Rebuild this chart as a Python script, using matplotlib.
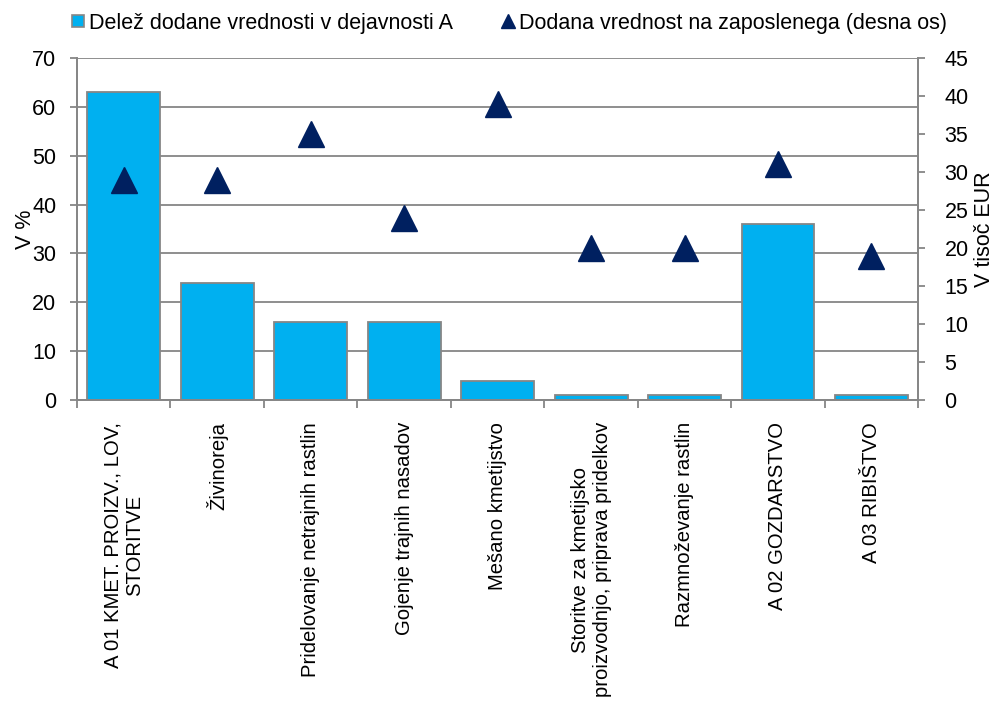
import numpy as np
import matplotlib.pyplot as plt
from matplotlib.lines import Line2D

plt.rcParams['font.family'] = ['Liberation Sans', 'DejaVu Sans']

# data
categories = [
    'A 01 KMET. PROIZV., LOV,\nSTORITVE',
    'Živinoreja',
    'Pridelovanje netrajnih rastlin',
    'Gojenje trajnih nasadov',
    'Mešano kmetijstvo',
    'Storitve za kmetijsko\nproizvodnjo, priprava pridelkov',
    'Razmnoževanje rastlin',
    'A 02 GOZDARSTVO',
    'A 03 RIBIŠTVO',
]
share = [63, 24, 16, 16, 3.8, 1, 1, 36, 1]
value_per_employee = [29, 29, 35, 24, 39, 20, 20, 31, 19]

bar_color = '#00B0F0'
tri_color = '#002060'
gray = '#868686'
fs = 15.5

fig = plt.figure(figsize=(9.99, 7.13), dpi=100)
ax = fig.add_axes([0.0771, 0.439, 0.842, 0.4797])
ax2 = ax.twinx()

x = np.arange(len(categories))
ax.bar(x, share, width=0.78, color=bar_color, edgecolor=gray, linewidth=1.3, zorder=3)
ax2.plot(x, value_per_employee, linestyle='none', marker='^', ms=18.5,
         color=tri_color, zorder=4)

ax.set_xlim(-0.5, len(categories) - 0.5)
ax.set_ylim(0, 70)
ax.set_yticks(range(0, 71, 10))
ax2.set_ylim(0, 45)
ax2.set_yticks(range(0, 46, 5))

ax.yaxis.grid(True, color=gray, linewidth=1.3, zorder=0)
ax.set_axisbelow(True)

# category ticks at boundaries, labels centred on bars
ax.set_xticks(np.arange(-0.5, len(categories), 1))
ax.set_xticklabels([])
ax.set_xticks(x, minor=True)
ax.set_xticklabels(categories, minor=True, rotation=90, fontsize=14.6,
                   multialignment='center', va='top', ha='center')
ax.tick_params(axis='x', which='minor', length=0, pad=16)
ax.tick_params(axis='x', which='major', length=6, width=1.3, color=gray)

ax.tick_params(axis='y', labelsize=fs, length=5, width=1.3, color=gray, pad=10)
ax2.tick_params(axis='y', labelsize=fs, length=5, width=1.3, color=gray, pad=14)

for a in (ax, ax2):
    a.spines['top'].set_visible(False)
    for s in ('left', 'right', 'bottom'):
        a.spines[s].set_color(gray)
        a.spines[s].set_linewidth(1.3)

ax.set_ylabel('V %', fontsize=fs, labelpad=-3)
ax2.set_ylabel('V tisoč EUR', fontsize=fs, labelpad=4)

handles = [
    Line2D([], [], linestyle='none', marker='s', ms=9, markerfacecolor=bar_color,
           markeredgecolor=gray, markeredgewidth=1.2),
    Line2D([], [], linestyle='none', marker='^', ms=10, color=tri_color),
]
labels = ['Delež dodane vrednosti v dejavnosti A',
          'Dodana vrednost na zaposlenega (desna os)']
fig.legend(handles, labels, loc='upper left', bbox_to_anchor=(0.058, 1.0),
           ncol=2, frameon=False, fontsize=fs, handlelength=0.7,
           handletextpad=0.15, columnspacing=2.2, borderaxespad=0.2)

fig.savefig('out.png', dpi=100)
